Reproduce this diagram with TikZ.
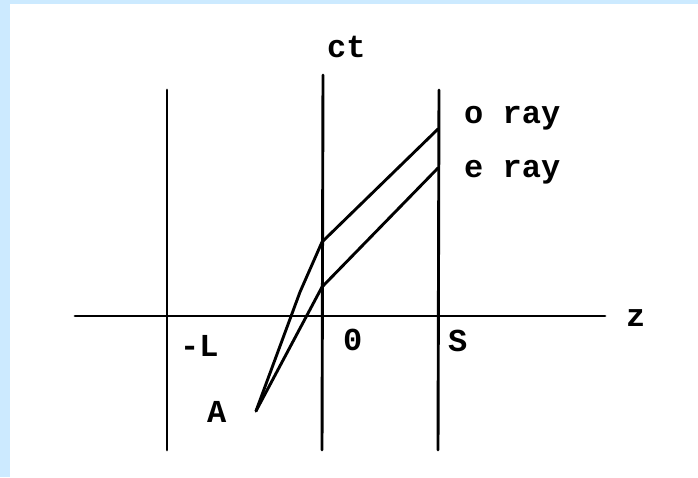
\documentclass[tikz,border=0pt]{standalone}
\usepackage{fontspec}
\setmonofont{Liberation Mono}
\usepackage{tikz}
\usetikzlibrary{positioning}

\definecolor{frameblue}{RGB}{204,234,255}

\begin{document}
\begin{tikzpicture}[x=1pt, y=-1pt,
    axis/.style={line width=2.9pt, line cap=round},
    ray/.style={line width=2.9pt, line join=round, line cap=round},
    lbl/.style={font=\ttfamily\bfseries\fontsize{32}{32}\selectfont,
                inner sep=0pt, anchor=base west}
]
    \useasboundingbox (0,0) rectangle (698,477);
    \fill[white] (0,0) rectangle (698,477);
    \fill[frameblue] (0,0) rectangle (10,477);
    \fill[frameblue] (0,0) rectangle (698,4);

    % axes and the three planes
    \coordinate (zl)   at (75,316);
    \coordinate (zr)   at (605,316);
    \coordinate (Ltop) at (167,90);
    \coordinate (Lbot) at (167,450);
    \coordinate (Otop) at (323,75);
    \coordinate (Obot) at (322,450);
    \coordinate (Stop) at (439,90);
    \coordinate (Sbot) at (438,450);
    \draw[axis] (zl) -- (zr);
    \draw[axis] (Ltop) -- (Lbot);
    \draw[axis] (Otop) -- (Obot);
    \draw[axis] (Stop) -- (Sbot);

    % rays from A
    \coordinate (src)  at (256,411);
    \coordinate (oknk) at (300,292);
    \coordinate (oin)  at (322,242);
    \coordinate (oout) at (438,129);
    \coordinate (ein)  at (322,287);
    \coordinate (eout) at (438,168);
    \draw[ray] (src) -- (oknk) -- (oin) -- (oout);
    \draw[ray] (src) -- (ein) -- (eout);

    % labels
    \node[lbl] (ct)   at (327,57)  {ct};
    \node[lbl] (z)    at (626,326) {z};
    \node[lbl] (mL)   at (180,356) {-L};
    \node[lbl] (zero) at (343,350) {0};
    \node[lbl] (S)    at (448,351) {S};
    \node[lbl] (A)    at (207,422) {A};
    \node[lbl] (oray) at (464,123) {o ray};
    \node[lbl] (eray) at (464,177) {e ray};
\end{tikzpicture}
\end{document}
